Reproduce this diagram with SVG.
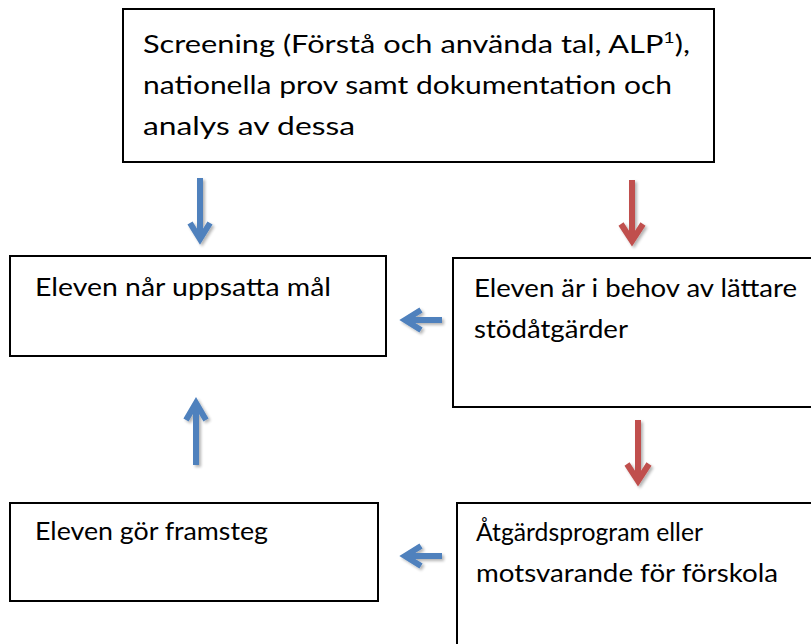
<svg xmlns="http://www.w3.org/2000/svg" width="811" height="644" viewBox="0 0 811 644">
<defs>
<style>
.box{fill:#fff;stroke:#000;stroke-width:2}
.t{font-family:Lato,"Open Sans","Liberation Sans",sans-serif;font-size:25px;fill:#000}
.blue{fill:none;stroke:#4F81BD;stroke-width:6;stroke-linejoin:miter;stroke-linecap:butt}
.red{fill:none;stroke:#C0504D;stroke-width:6;stroke-linejoin:miter;stroke-linecap:butt}
</style>
<filter id="sh" x="-50%" y="-50%" width="200%" height="200%">
<feGaussianBlur in="SourceAlpha" stdDeviation="1.5"/>
<feOffset dx="2" dy="2" result="b"/>
<feComponentTransfer><feFuncA type="linear" slope="0.3"/></feComponentTransfer>
<feMerge><feMergeNode/><feMergeNode in="SourceGraphic"/></feMerge>
</filter>
</defs>
<rect width="811" height="644" fill="#fff"/>
<g id="screening">
<rect class="box" x="123" y="9" width="591" height="153"/>
<text class="t" x="143" y="53" textLength="547" lengthAdjust="spacingAndGlyphs">Screening (Förstå och använda tal, ALP<tspan dy="-10" font-size="16">1</tspan><tspan dy="10">),</tspan></text>
<text class="t" x="143" y="94" textLength="529" lengthAdjust="spacingAndGlyphs">nationella prov samt dokumentation och</text>
<text class="t" x="143" y="135" textLength="212" lengthAdjust="spacingAndGlyphs">analys av dessa</text>
</g>
<g id="mal">
<rect class="box" x="10" y="256" width="376" height="100"/>
<text class="t" x="35" y="296" textLength="296" lengthAdjust="spacingAndGlyphs">Eleven når uppsatta mål</text>
</g>
<g id="behov">
<rect class="box" x="453" y="258" width="420" height="149"/>
<text class="t" x="474" y="297" textLength="323" lengthAdjust="spacingAndGlyphs">Eleven är i behov av lättare</text>
<text class="t" x="474" y="338" textLength="154" lengthAdjust="spacingAndGlyphs">stödåtgärder</text>
</g>
<g id="framsteg">
<rect class="box" x="10" y="503" width="368" height="98"/>
<text class="t" x="35" y="540" textLength="233" lengthAdjust="spacingAndGlyphs">Eleven gör framsteg</text>
</g>
<g id="atgardsprogram">
<rect class="box" x="457" y="503" width="420" height="200"/>
<text class="t" x="476" y="541" textLength="227" lengthAdjust="spacingAndGlyphs">Åtgärdsprogram eller</text>
<text class="t" x="476" y="582" textLength="302" lengthAdjust="spacingAndGlyphs">motsvarande för förskola</text>
</g>
<g id="connectors" filter="url(#sh)">
<path class="blue" d="M200,178 V238 M190,223 L200,239 L210,223"/>
<path class="red" d="M632,180 V240 M621,224 L632,241 L643,224"/>
<path class="blue" d="M442,320 H406 M421,310 L405,320 L421,330"/>
<path class="blue" d="M196,465 V404 M186,420 L196,403 L206,420"/>
<path class="red" d="M638,420 V480 M627,464 L638,481 L649,464"/>
<path class="blue" d="M442,556 H406 M421,546 L405,556 L421,566"/>
</g>
</svg>
